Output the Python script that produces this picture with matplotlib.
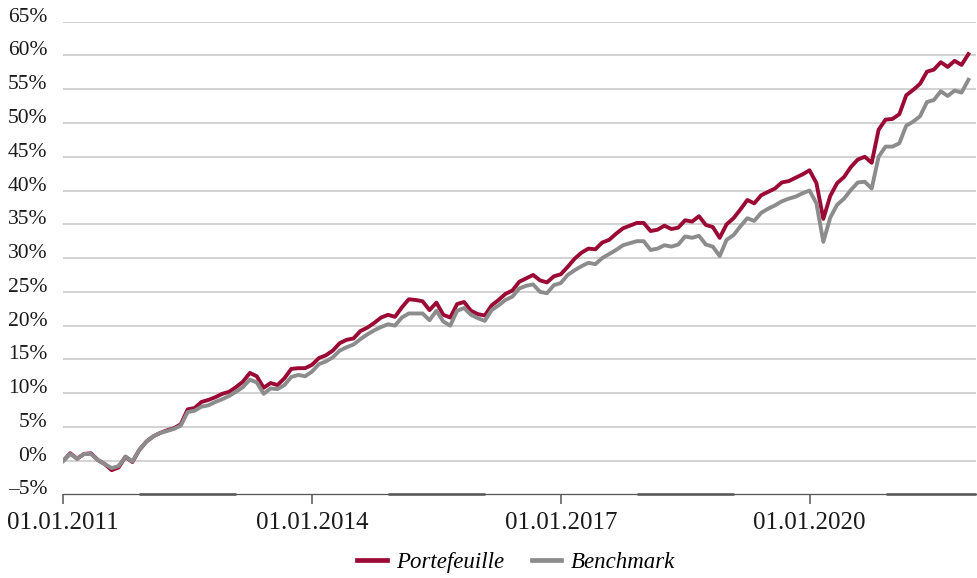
import matplotlib
matplotlib.use('agg')
import matplotlib.pyplot as plt
from matplotlib.patches import Rectangle
import numpy as np

# monthly cumulative performance in %, Jan 2011 .. Dec 2021
portefeuille = [
    0.0, 1.1, 0.3, 1.0, 1.1, 0.1, -0.5, -1.4, -1.0, 0.6, -0.2, 1.6,
    2.8, 3.6, 4.1, 4.5, 4.8, 5.4, 7.6, 7.8, 8.7, 9.0, 9.4, 9.9,
    10.2, 10.9, 11.7, 13.0, 12.5, 10.8, 11.5, 11.2, 12.2, 13.6, 13.7, 13.7,
    14.2, 15.2, 15.6, 16.3, 17.4, 17.9, 18.1, 19.2, 19.7, 20.4, 21.2, 21.6,
    21.3, 22.7, 23.9, 23.8, 23.6, 22.3, 23.4, 21.6, 21.2, 23.2, 23.5, 22.2,
    21.7, 21.5, 23.0, 23.8, 24.7, 25.2, 26.5, 27.0, 27.5, 26.7, 26.4, 27.3,
    27.6, 28.7, 29.9, 30.8, 31.4, 31.3, 32.3, 32.7, 33.6, 34.4, 34.8, 35.2,
    35.2, 34.0, 34.2, 34.8, 34.3, 34.5, 35.6, 35.4, 36.2, 34.9, 34.6, 33.0,
    35.0, 35.9, 37.2, 38.6, 38.1, 39.3, 39.8, 40.3, 41.2, 41.4, 41.9, 42.4,
    43.0, 41.1, 35.8, 39.2, 41.1, 42.0, 43.5, 44.6, 45.0, 44.1, 49.0, 50.5,
    50.6, 51.3, 54.1, 54.9, 55.8, 57.6, 57.9, 59.0, 58.3, 59.2, 58.6, 60.2,
]
benchmark = [
    0.0, 1.0, 0.3, 1.0, 1.0, 0.1, -0.5, -1.1, -0.8, 0.6, -0.1, 1.6,
    2.8, 3.6, 4.1, 4.4, 4.7, 5.2, 7.2, 7.4, 8.0, 8.2, 8.7, 9.1,
    9.6, 10.2, 10.9, 12.0, 11.6, 9.9, 10.7, 10.6, 11.2, 12.4, 12.7, 12.5,
    13.2, 14.3, 14.7, 15.3, 16.3, 16.8, 17.2, 18.0, 18.7, 19.3, 19.8, 20.2,
    20.0, 21.2, 21.8, 21.8, 21.8, 20.8, 22.2, 20.6, 20.0, 22.2, 22.6, 21.6,
    21.1, 20.7, 22.3, 23.0, 23.8, 24.3, 25.5, 25.9, 26.1, 25.0, 24.8, 26.0,
    26.3, 27.5, 28.2, 28.8, 29.3, 29.1, 30.0, 30.6, 31.2, 31.9, 32.2, 32.5,
    32.5, 31.2, 31.4, 31.9, 31.7, 32.0, 33.2, 33.0, 33.3, 32.0, 31.7, 30.3,
    32.7, 33.4, 34.7, 35.9, 35.5, 36.7, 37.3, 37.8, 38.4, 38.8, 39.1, 39.6,
    40.0, 38.1, 32.4, 36.0, 37.9, 38.8, 40.1, 41.2, 41.3, 40.3, 45.0, 46.5,
    46.5, 47.0, 49.6, 50.2, 51.0, 53.1, 53.4, 54.7, 54.0, 54.8, 54.5, 56.4,
]
xtick_labels = ['01.01.2011', '01.01.2014', '01.01.2017', '01.01.2020']
ytick_values = list(range(-5, 70, 5))

red = '#9b0a35'
grey = '#8c8c8c'
axis_col = '#555555'

plt.rcParams['font.family'] = ['Liberation Serif', 'DejaVu Serif']

fig = plt.figure(figsize=(9.77, 5.78), dpi=100)
ax = fig.add_axes([0.0648, 0.1445, 0.9342, 0.818])

x = np.arange(len(portefeuille))
ax.plot(x, portefeuille, color=red, lw=2.8, label='Portefeuille', zorder=3)
ax.plot(x, benchmark, color=grey, lw=2.8, label='Benchmark', zorder=3)

ax.set_xlim(0, 132.1)
ax.set_ylim(-5, 65)

for v in ytick_values[1:]:
    ax.axhline(v, color='#c6c6c6', lw=1.1, zorder=1)

for s in ['top', 'right', 'left']:
    ax.spines[s].set_visible(False)
ax.spines['bottom'].set_color(axis_col)
ax.spines['bottom'].set_linewidth(0.9)

# darker segments on the base line (as in the source)
for start in range(0, 132, 36):
    ax.plot([start + 11, min(start + 25, 132.1)], [-5, -5], color=axis_col,
            lw=1.8, solid_capstyle='butt', clip_on=False, zorder=4)

ax.set_xticks(range(0, 132, 36))
ax.set_xticklabels(xtick_labels, fontsize=18)
ax.tick_params(axis='x', length=7.5, width=1.1, color=axis_col, pad=5, labelcolor='#1a1a1a')

ax.set_yticks(ytick_values)
ax.set_yticklabels([('–' if v < 0 else '') + f'{abs(v)}%' for v in ytick_values], fontsize=15.5)
ax.tick_params(axis='y', length=0, pad=11.5, labelcolor='#1a1a1a')
clip = Rectangle((0, 0.1445), 1, 1, transform=fig.transFigure)
for lab in ax.get_yticklabels():
    lab.set_va('baseline')
    lab.set_clip_path(clip)

fig.legend(loc='center', bbox_to_anchor=(0.528, 0.026), ncol=2, frameon=False,
           prop={'style': 'italic', 'size': 16.5}, handlelength=1.3, handletextpad=0.4,
           columnspacing=1.2)
for line in fig.legends[0].get_lines():
    line.set_linewidth(3.4)

plt.savefig('out.png', dpi=100)
